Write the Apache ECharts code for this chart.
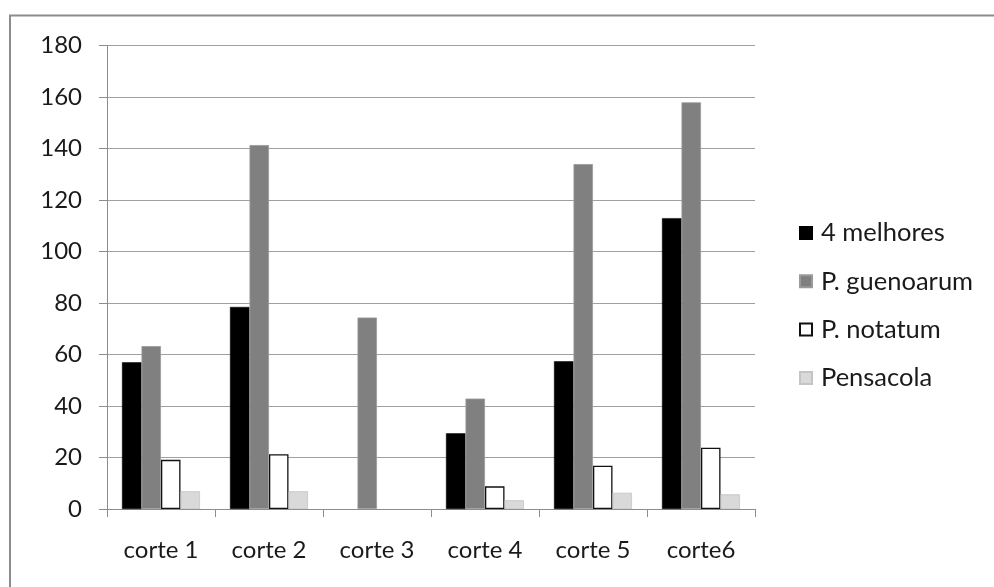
<!DOCTYPE html>
<html>
<head>
<meta charset="utf-8">
<script src="https://cdn.jsdelivr.net/npm/echarts@6/dist/echarts.min.js"></script>
<style>html,body{margin:0;padding:0;background:#fff}#c{width:994px;height:587px}</style>
</head>
<body>
<div id="c"></div>
<script>
const categories = ['corte 1', 'corte 2', 'corte 3', 'corte 4', 'corte 5', 'corte6'];
const seriesNames = ['4 melhores', 'P. guenoarum', 'P. notatum', 'Pensacola'];
const melhores = [57, 78.5, 0, 29.4, 57.4, 113];
const guenoarum = [63.3, 141.4, 74.4, 42.9, 134, 158];
const notatum = [19.1, 21.3, 0, 8.8, 16.8, 23.8];
const pensacola = [6.9, 6.9, 0, 3.4, 6.3, 5.7];
const yTicks = { min: 0, max: 180, interval: 20 };

const FONT = 'Lato';
const TXT = '#1a1a1a';
const chart = echarts.init(document.getElementById('c'), null, { renderer: 'canvas' });
const barW = 19.5;
// zero-height bars drawn without border so nothing is visible
const withZeros = arr => arr.map(v => v === 0 ? { value: 0, itemStyle: { borderWidth: 0, opacity: 0 } } : v);
chart.setOption({
  animation: false,
  backgroundColor: '#fff',
  textStyle: { fontFamily: FONT },
  graphic: [{
    type: 'rect', silent: true,
    shape: { x: 10, y: 15.5, width: 1200, height: 800 },
    style: { fill: 'none', stroke: '#8c8c8c', lineWidth: 2 }
  }],
  grid: { left: 107, right: 239, top: 45.7, bottom: 78, containLabel: false },
  legend: {
    orient: 'vertical', left: 799, top: 220, padding: 0,
    itemWidth: 12, itemHeight: 12, itemGap: 22.3, icon: 'rect',
    textStyle: { fontFamily: FONT, fontSize: 25.5, lineHeight: 26, color: TXT, padding: [0, 0, 0, 4] },
    data: seriesNames
  },
  xAxis: {
    type: 'category', data: categories,
    axisLine: { lineStyle: { color: '#8c8c8c', width: 1 } },
    axisTick: { show: true, length: 8, lineStyle: { color: '#8c8c8c' } },
    axisLabel: { fontFamily: FONT, fontSize: 24, color: TXT, margin: 29 }
  },
  yAxis: {
    type: 'value', min: yTicks.min, max: yTicks.max, interval: yTicks.interval,
    axisLine: { show: true, lineStyle: { color: '#8c8c8c', width: 1 } },
    axisTick: { show: true, length: 8, lineStyle: { color: '#8c8c8c' } },
    splitLine: { lineStyle: { color: '#a0a0a0', width: 1.2 } },
    axisLabel: { fontFamily: FONT, fontSize: 24, color: TXT, margin: 25 }
  },
  series: [
    { name: seriesNames[0], type: 'bar', data: withZeros(melhores), barWidth: barW, barGap: '0%',
      itemStyle: { color: '#000000', borderColor: '#000000', borderWidth: 0.5 } },
    { name: seriesNames[1], type: 'bar', data: withZeros(guenoarum), barWidth: barW, barGap: '0%',
      itemStyle: { color: '#808080', borderColor: '#9a9a9a', borderWidth: 0.8 } },
    { name: seriesNames[2], type: 'bar', data: withZeros(notatum), barWidth: barW, barGap: '0%',
      itemStyle: { color: '#ffffff', borderColor: '#111111', borderWidth: 1.3 } },
    { name: seriesNames[3], type: 'bar', data: withZeros(pensacola), barWidth: barW, barGap: '0%',
      itemStyle: { color: '#d9d9d9', borderColor: '#c4c4c4', borderWidth: 0.8 } }
  ]
});
</script>
</body>
</html>
